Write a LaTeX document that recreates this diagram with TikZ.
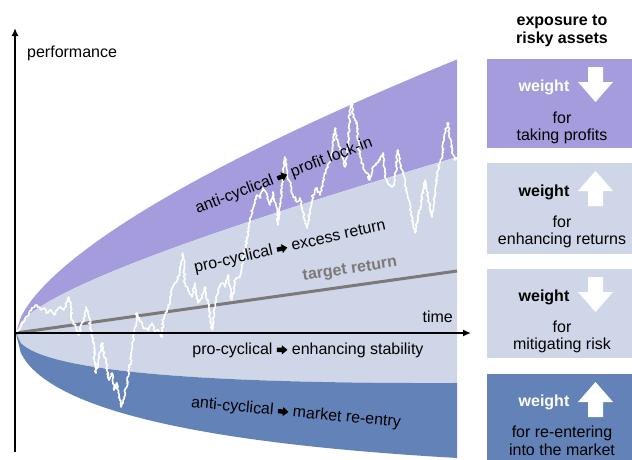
\documentclass[tikz,border=0pt]{standalone}
\usepackage{fontspec}
\setmainfont{Liberation Sans}
\usetikzlibrary{arrows.meta,decorations.pathmorphing}

\definecolor{lockin}{RGB}{164,156,220}
\definecolor{midband}{RGB}{206,214,232}
\definecolor{reentry}{RGB}{99,130,184}
\definecolor{targetgray}{RGB}{125,121,121}

% small solid block arrow used inside the band labels
\newcommand{\fatarrow}{\tikz[x=1pt,y=1pt,baseline=-4.3pt]
  \fill[black] (0,2.2) -- (5,2.2) -- (5,4.6) -- (10.5,0) -- (5,-4.6) -- (5,-2.2)
  -- (0,-2.2) -- cycle;}

\begin{document}
\begin{tikzpicture}[x=1pt,y=-1pt,
  txt/.style={font=\fontsize{16}{19}\selectfont, inner sep=0pt},
  hdr/.style={txt, font=\fontsize{16}{19}\selectfont\bfseries},
  bandlabel/.style={txt, text=black},
  axis/.style={line width=1.8pt, -{Latex[length=8pt,width=7pt]}},
  panel/.style={anchor=north west, minimum width=146, minimum height=#1,
                inner sep=0pt, outer sep=0pt, draw=none},
  wlabel/.style={hdr, anchor=base},
  plabel/.style={txt, anchor=base},
  arrowdown/.pic={\fill[white] (-7.5,0) -- (7.5,0) -- (7.5,15) -- (17.5,15)
                   -- (0,35) -- (-17.5,15) -- (-7.5,15) -- cycle;},
  arrowup/.pic={\fill[white] (0,0) -- (17.5,20) -- (7.5,20) -- (7.5,35)
                   -- (-7.5,35) -- (-7.5,20) -- (-17.5,20) -- cycle;},
]
\useasboundingbox (0,0) rectangle (632,459);

% ---- the funnel of outcomes around the target ----
\fill[lockin] (16,333)
  -- plot[domain=0.01:441, samples=90] ({16+\x}, {333-(6.02*exp(0.6*ln(\x))+0.0933*\x)})
  -- plot[domain=441:0.01, samples=90] ({16+\x}, {333-(4.41*sqrt(\x)+0.189*\x)})
  -- cycle;
\fill[midband] (16,333)
  -- plot[domain=0.01:441, samples=90] ({16+\x}, {333-(4.41*sqrt(\x)+0.189*\x)})
  -- plot[domain=441:0.01, samples=90] ({16+\x}, {333+(4.9*sqrt(\x)-0.12*\x)})
  -- cycle;
\fill[reentry] (16,333)
  -- plot[domain=0.01:441, samples=90] ({16+\x}, {333+(4.9*sqrt(\x)-0.12*\x)})
  -- plot[domain=441:0.01, samples=90] ({16+\x}, {333+(9.52*sqrt(\x)-0.170*\x)})
  -- cycle;

% target return line
\coordinate (t0) at (16,333);
\coordinate (t1) at (457,271);
\draw[targetgray, line width=3pt] (t0) -- (t1);

% simulated portfolio performance
\pgfmathsetseed{11}
\draw[white, line width=1.6pt, line join=round,
      decorate, decoration={random steps, segment length=1.6pt, amplitude=1.1pt}]
  (16,333) -- (24,322) -- (29,313) -- (32,308) -- (37,305) -- (41,310) -- (44,308)
  -- (47,313) -- (51,310) -- (54,315) -- (57,310) -- (61,307) -- (64,310) -- (67,302)
  -- (69,297) -- (71,303) -- (72,320) -- (76,327) -- (79,335) -- (81,325) -- (84,320)
  -- (86,307) -- (89,317) -- (92,337) -- (94,348) -- (96,373) -- (99,357) -- (102,343)
  -- (106,363) -- (109,380) -- (112,373) -- (114,390) -- (117,383) -- (121,407)
  -- (124,397) -- (127,383) -- (131,357) -- (134,333) -- (137,313) -- (140,320)
  -- (143,327) -- (148,330) -- (152,323) -- (155,333) -- (158,330) -- (162,337)
  -- (163,320) -- (167,310) -- (170,300) -- (173,287) -- (177,280) -- (180,273)
  -- (183,253) -- (185,283) -- (188,290) -- (192,297) -- (195,283) -- (198,303)
  -- (202,297) -- (205,287) -- (208,303) -- (212,330) -- (215,303) -- (218,290)
  -- (222,283) -- (225,287) -- (228,275) -- (232,300) -- (235,280) -- (240,277)
  -- (243,260) -- (247,240) -- (250,218) -- (253,208) -- (257,195) -- (260,198)
  -- (263,188) -- (267,195) -- (270,205) -- (273,192) -- (277,212) -- (278,225)
  -- (282,188) -- (285,157) -- (287,175) -- (290,182) -- (293,195) -- (297,202)
  -- (300,198) -- (303,212) -- (307,228) -- (310,212) -- (313,195) -- (317,188)
  -- (320,195) -- (323,182) -- (327,168) -- (330,162) -- (333,145) -- (335,128)
  -- (338,145) -- (342,152) -- (345,167) -- (348,145) -- (350,110) -- (352,103)
  -- (353,117) -- (357,123) -- (358,140) -- (360,157) -- (363,167) -- (367,173)
  -- (370,180) -- (373,167) -- (377,163) -- (380,160) -- (383,153) -- (385,177)
  -- (388,183) -- (392,187) -- (395,180) -- (398,150) -- (402,170) -- (405,183)
  -- (408,197) -- (412,217) -- (415,233) -- (418,217) -- (422,197) -- (425,180)
  -- (428,197) -- (432,217) -- (435,190) -- (438,170) -- (442,157) -- (445,133)
  -- (448,123) -- (452,150) -- (455,160) -- (458,157);

% ---- axes ----
\coordinate (ybot) at (15,452);
\coordinate (ytop) at (15,28);
\coordinate (xorg) at (14,333);
\coordinate (xend) at (471,333);
\draw[axis] (ybot) -- (ytop);
\draw[axis] (xorg) -- (xend);
\node[txt, anchor=base west] (perf) at (27,57) {performance};
\node[txt, anchor=base east] (time) at (453,322) {time};

% ---- band labels ----
\node[bandlabel, rotate=21] (lockinlbl) at (284,176)
  {anti-cyclical \fatarrow\ profit lock-in};
\node[bandlabel, rotate=12.5] (excesslbl) at (290,247)
  {pro-cyclical \fatarrow\ excess return};
\node[txt, font=\fontsize{16}{19}\selectfont\bfseries, text=targetgray, rotate=8.5]
  (targetlbl) at (350,270) {target return};
\node[bandlabel] (stablbl) at (308,350)
  {pro-cyclical \fatarrow\ enhancing stability};
\node[bandlabel, rotate=-5.5] (reentrylbl) at (296,413)
  {anti-cyclical \fatarrow\ market re-entry};

% ---- exposure panels ----
\node[hdr, anchor=base] (head1) at (562,25) {exposure to};
\node[hdr, anchor=base] (head2) at (562,43.5) {risky assets};

\node[panel=89, fill=lockin]  (p1) at (487,59)  {};
\node[panel=91, fill=midband] (p2) at (487,163) {};
\node[panel=89, fill=midband] (p3) at (487,269) {};
\node[panel=92, fill=reentry] (p4) at (487,374) {};

\node[wlabel, text=white] (w1) at (544,91.5) {weight};
\pic at (595.5,67) {arrowdown};
\node[plabel] (f1a) at (562,123) {for};
\node[plabel] (f1b) at (562,140) {taking profits};

\node[wlabel] (w2) at (544,196) {weight};
\pic at (595.5,171) {arrowup};
\node[plabel] (f2a) at (562,227) {for};
\node[plabel] (f2b) at (562,244) {enhancing returns};

\node[wlabel] (w3) at (544,301.5) {weight};
\pic at (595.5,277) {arrowdown};
\node[plabel] (f3a) at (562,332) {for};
\node[plabel] (f3b) at (562,349) {mitigating risk};

\node[wlabel, text=white] (w4) at (544,406.5) {weight};
\pic at (595.5,382) {arrowup};
\node[plabel] (f4a) at (562,437) {for re-entering};
\node[plabel] (f4b) at (562,455) {into the market};
\end{tikzpicture}
\end{document}
